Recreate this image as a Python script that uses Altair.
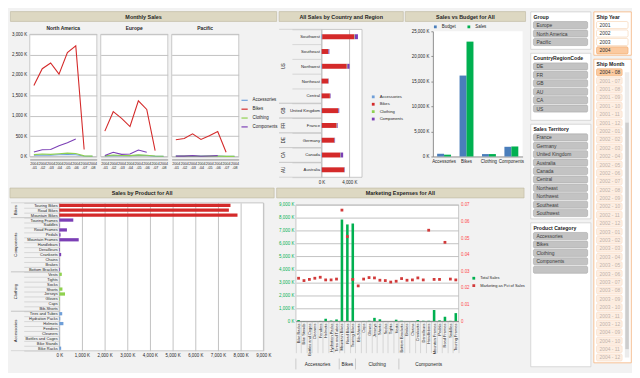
import json
import altair as alt
import pandas as pd

FONT = "Liberation Sans"
HEAD_FILL = "#ddd8c2"
HEAD_STROKE = "#bdb79f"
GRID = "#c2c2c2"
AXIS_DOMAIN = "#8c8c8c"
SEP = "#c4c4c4"

# ---------------- data ----------------
months = ["2004-01", "2004-02", "2004-03", "2004-04", "2004-05", "2004-06", "2004-07", "2004-08"]
regions = ["North America", "Europe", "Pacific"]
categories = ["Accessories", "Bikes", "Clothing", "Components"]
cat_colors = ["#6f9fd8", "#d42a2a", "#8fd14f", "#7b3fb5"]

na_accessories = [30, 38, 34, 42, 48, 44, 10, 5]
na_bikes = [1740, 2155, 2295, 2020, 2550, 2715, 172, None]
na_clothing = [45, 60, 52, 67, 82, 75, 15, 8]
na_components = [112, 165, 172, 262, 337, 427, None, None]
eu_accessories = [12, 22, 18, 20, 28, 24, 6, 3]
eu_bikes = [622, 1100, 937, 735, 1365, 1155, 143, None]
eu_clothing = [15, 37, 25, 22, 40, 30, 10, 4]
eu_components = [22, 105, 52, 60, 157, 105, None, None]
pa_accessories = [8, 10, 12, 9, 12, 14, 4, 2]
pa_bikes = [412, 442, 555, 420, 510, 615, 105, None]
pa_clothing = [6, 8, 10, 7, 9, 12, 3, 2]
pa_components = [8, 10, 22, 6, 14, 22, None, None]

country_order = ["US", "GB", "FR", "DE", "CA", "AU"]
country_codes = ["US", "US", "US", "US", "US", "GB", "FR", "DE", "CA", "AU"]
territories = ["Southwest", "Southeast", "Northwest", "Northeast", "Central",
               "United Kingdom", "France", "Germany", "Canada", "Australia"]
terr_accessories = [110, 25, 90, 22, 28, 60, 50, 40, 80, 45]
terr_bikes = [4575, 944, 3540, 944, 1180, 2310, 2120, 1790, 2590, 3210]
terr_clothing = [80, 20, 70, 18, 22, 40, 35, 30, 60, 25]
terr_components = [470, 140, 330, 60, 80, 140, 110, 90, 380, 70]

budget_series = ["Budget", "Sales"]
budget_values = [545, 16160, 484, 1937]
sales_values = [363, 22940, 484, 2000]

product_categories = (["Accessories"] * 8 + ["Bikes"] * 3 + ["Clothing"] * 8 + ["Components"] * 11)
products = ["Bike Racks", "Bike Stands", "Bottles and Cages", "Cleaners", "Fenders", "Helmets",
            "Hydration Packs", "Tires and Tubes",
            "Mountain Bikes", "Road Bikes", "Touring Bikes",
            "Bib-Shorts", "Caps", "Gloves", "Jerseys", "Shorts", "Socks", "Tights", "Vests",
            "Bottom Brackets", "Brakes", "Chains", "Cranksets", "Derailleurs", "Handlebars",
            "Mountain Frames", "Pedals", "Road Frames", "Saddles", "Touring Frames"]
product_sales = [84, 10, 14, 10, 14, 183, 42, 130,
                 7861, 7481, 7552,
                 3, 14, 28, 253, 140, 3, 2, 112,
                 28, 10, 10, 84, 28, 28, 858, 56, 338, 20, 619]
marketing_pct = [0.0258, 0.0244, 0.0251, 0.0258, 0.0264, 0.0248, 0.0248, 0.0253,
                 0.0668, 0.0509, 0.0251,
                 0.0212, 0.0253, 0.0262, 0.0260, 0.0246, 0.0244, 0.0235, 0.0240,
                 0.0256, 0.0246, 0.0248, 0.0260, 0.0248, 0.0547, 0.0251, 0.0251, 0.0474, 0.0253, 0.0248]
product_row_order = ["Bikes", "Components", "Clothing", "Accessories"]
mk_series = ["Total Sales", "Marketing as Pct of Sales"]

group_items = ["Europe", "North America", "Pacific"]
country_code_items = ["DE", "FR", "GB", "AU", "CA", "US"]
territory_items = ["France", "Germany", "United Kingdom", "Australia", "Canada", "Central",
                   "Northeast", "Northwest", "Southeast", "Southwest"]
category_items = ["Accessories", "Bikes", "Clothing", "Components", ""]
ship_years = ["2001", "2002", "2003", "2004"]
ship_year_selected = ["2004"]
ship_months = ["2004 - 08", "2001 - 07", "2001 - 08", "2001 - 09", "2001 - 10", "2001 - 11", "2001 - 12",
               "2002 - 01", "2002 - 02", "2002 - 03", "2002 - 04", "2002 - 05", "2002 - 06",
               "2002 - 07", "2002 - 08", "2002 - 09", "2002 - 10", "2002 - 11", "2002 - 12",
               "2003 - 01", "2003 - 02", "2003 - 03", "2003 - 04", "2003 - 05", "2003 - 06",
               "2003 - 07", "2003 - 08", "2003 - 09", "2003 - 10", "2003 - 11", "2003 - 12",
               "2004 - 09", "2004 - 10", "2004 - 11", "2004 - 12"]
ship_month_selected = ["2004 - 08"]

# ---------------- tables ----------------
ms_rows = []
for region, series in zip(regions, [
        [na_accessories, na_bikes, na_clothing, na_components],
        [eu_accessories, eu_bikes, eu_clothing, eu_components],
        [pa_accessories, pa_bikes, pa_clothing, pa_components]]):
    for cat, vals in zip(categories, series):
        for m, v in zip(months, vals):
            if v is not None:
                ms_rows.append({"region": region, "category": cat, "month": m, "value": v})
ms_df = pd.DataFrame(ms_rows)

ct_rows = []
for i, terr in enumerate(territories):
    for cat, vals in zip(categories, [terr_accessories, terr_bikes, terr_clothing, terr_components]):
        ct_rows.append({"code": country_codes[i], "territory": terr, "category": cat, "value": vals[i]})
ct_df = pd.DataFrame(ct_rows)
code_df = pd.DataFrame({"code": country_codes, "territory": territories})

bd_rows = []
for i, cat in enumerate(categories):
    bd_rows.append({"category": cat, "series": "Budget", "value": budget_values[i]})
    bd_rows.append({"category": cat, "series": "Sales", "value": sales_values[i]})
bd_df = pd.DataFrame(bd_rows)

pr_df = pd.DataFrame({"category": product_categories, "product": products,
                      "sales": product_sales, "pct": marketing_pct})
# display order of the horizontal product bars (top to bottom)
product_display = []
for cat in product_row_order:
    product_display += sorted([p for p, c in zip(products, product_categories) if c == cat], reverse=True)

K_LABEL = "format(datum.value, ',') + ' K'"
WHITE = alt.ViewBackground(fill="white", stroke="#a8a8a8", strokeWidth=0.6)
SPACER_DF = pd.DataFrame({"t": [""]})


def spacer(h):
    return alt.Chart(SPACER_DF).mark_text(fontSize=1).encode(text="t:N").properties(width=1, height=h)


def header(title, left, width, h=10):
    df = pd.DataFrame({"t": [title]})
    base = alt.Chart(df)
    rect = base.mark_rect(fill=HEAD_FILL, stroke=HEAD_STROKE, strokeWidth=0.6).encode(
        x=alt.value(-left), x2=alt.value(width - left), y=alt.value(0), y2=alt.value(h))
    txt = base.mark_text(font=FONT, fontSize=5.5, fontWeight="bold", color="#1f1f1f").encode(
        x=alt.value(width / 2 - left), y=alt.value(h / 2 + 0.5), text="t:N")
    return alt.layer(rect, txt).properties(width=1, height=h)


def panel(title, left, width, bodies, gap=2):
    return alt.vconcat(header(title, left, width), *bodies, spacing=gap).resolve_scale(color="independent")


def group_labels(df, key, order, n_total, height, label_x, sep_left, font_size):
    """Category labels + separators for a nested (two level) vertical axis."""
    base = alt.Chart(df).transform_aggregate(
        n="count()", groupby=[key]).transform_calculate(
        rank="indexof(%s, datum.%s)" % (json.dumps(order), key)).transform_window(
        end="sum(n)", sort=[alt.SortField("rank")]).transform_calculate(
        start="datum.end - datum.n", mid="datum.end - datum.n / 2")
    ys = alt.Scale(domain=[0, n_total], range=[0, height], nice=False, zero=False)
    txt = base.mark_text(angle=270, fontSize=font_size, color="#262626").encode(
        y=alt.Y("mid:Q", scale=ys, axis=None), x=alt.value(label_x), text=f"{key}:N")
    s1 = base.mark_rule(color=SEP, strokeWidth=0.6).encode(
        y=alt.Y("start:Q", scale=ys, axis=None), x=alt.value(-sep_left), x2=alt.value(0))
    s2 = base.mark_rule(color=SEP, strokeWidth=0.6).encode(
        y=alt.Y("end:Q", scale=ys, axis=None), x=alt.value(-sep_left), x2=alt.value(0))
    return [txt, s1, s2]


# ---------------- Monthly Sales ----------------
monthly = alt.Chart(ms_df).mark_line(strokeWidth=1.1).encode(
    x=alt.X("month:O", title=None, axis=alt.Axis(
        labelExpr="[slice(datum.label, 0, 4), slice(datum.label, 4)]", labelAngle=0,
        labelFontSize=3.7, labelLineHeight=4.6, ticks=False, domainColor=AXIS_DOMAIN, labelPadding=2)),
    y=alt.Y("value:Q", title=None, scale=alt.Scale(domain=[0, 3000]), axis=alt.Axis(
        values=[0, 500, 1000, 1500, 2000, 2500, 3000], labelExpr=K_LABEL, labelFontSize=4.5,
        labelOverlap=False, gridColor=GRID, ticks=False, domain=False, minExtent=17, maxExtent=17,
        labelPadding=2)),
    color=alt.Color("category:N", scale=alt.Scale(domain=categories, range=cat_colors),
                    legend=alt.Legend(title=None, orient="none", legendX=214, legendY=63, padding=0,
                                      symbolType="stroke", labelFontSize=4.5, symbolSize=40,
                                      symbolStrokeWidth=1.2, rowPadding=2)),
).properties(width=68, height=124, view=WHITE).facet(
    column=alt.Column("region:N", sort=regions, title=None,
                      header=alt.Header(labelFontSize=5, labelFontWeight="bold", labelPadding=2)),
    spacing=2)

# ---------------- Country / Region ----------------
CT_H = 150
country_bars = alt.Chart(ct_df).mark_bar(size=5).encode(
    y=alt.Y("territory:N", sort=territories, title=None,
            scale=alt.Scale(paddingInner=0, paddingOuter=0),
            axis=alt.Axis(labelFontSize=4.3, tickBand="extent", tickSize=30, tickColor=SEP,
                          tickWidth=0.6, domain=False, labelPadding=-28, minExtent=30, maxExtent=30)),
    x=alt.X("value:Q", title=None, stack="zero", scale=alt.Scale(domain=[0, 5800], nice=False),
            axis=alt.Axis(values=[0, 4000], labelExpr=K_LABEL, gridColor=GRID, ticks=False,
                          labelOverlap=False, labelFlush=False, domain=False, labelFontSize=4.5)),
    color=alt.Color("category:N", scale=alt.Scale(domain=categories, range=cat_colors),
                    legend=alt.Legend(title=None, orient="none", legendX=50, legendY=66, padding=0,
                                      symbolType="square", labelFontSize=4.2, symbolSize=8,
                                      rowPadding=2.5)),
)
country = alt.layer(
    country_bars,
    *group_labels(code_df, "code", country_order, len(territories), CT_H, -38, 43, 4.5)
).resolve_scale(y="independent").properties(width=41, height=CT_H, view=WHITE)

# ---------------- Sales vs Budget ----------------
budget = alt.Chart(bd_df).mark_bar().encode(
    x=alt.X("category:N", sort=categories, title=None,
            scale=alt.Scale(paddingInner=0.38, paddingOuter=0.19),
            axis=alt.Axis(labelAngle=0, labelFontSize=4.5, ticks=False, domainColor=AXIS_DOMAIN)),
    xOffset=alt.XOffset("series:N", sort=budget_series),
    y=alt.Y("value:Q", title=None, scale=alt.Scale(domain=[0, 25000]), axis=alt.Axis(
        values=[0, 5000, 10000, 15000, 20000, 25000], labelExpr=K_LABEL, grid=False,
        labelOverlap=False, labelFontSize=4.5, domainColor=AXIS_DOMAIN, tickColor=AXIS_DOMAIN,
        tickSize=2, minExtent=27, maxExtent=27)),
    color=alt.Color("series:N", scale=alt.Scale(domain=budget_series, range=["#4a7ebb", "#00b050"]),
                    legend=alt.Legend(title=None, orient="top", symbolType="square", padding=0,
                                      labelFontSize=4.5, symbolSize=8, direction="horizontal",
                                      offset=3)),
).properties(width=91, height=127, view=alt.ViewBackground(fill="white", stroke=None))

# ---------------- Sales by Product ----------------
PR_H = 150
product_bars = alt.Chart(pr_df).mark_bar(size=3.3).encode(
    y=alt.Y("product:N", sort=product_display, title=None,
            scale=alt.Scale(paddingInner=0, paddingOuter=0),
            axis=alt.Axis(labelFontSize=4, tickBand="extent", tickSize=36, tickColor=SEP,
                          tickWidth=0.6, domain=False, labelPadding=-34, minExtent=36, maxExtent=36)),
    x=alt.X("sales:Q", title=None, scale=alt.Scale(domain=[0, 9000], nice=False), axis=alt.Axis(
        values=[0, 1000, 2000, 3000, 4000, 5000, 6000, 7000, 8000, 9000], labelExpr=K_LABEL,
        labelOverlap=False, labelFlush=False, gridColor=GRID, ticks=False, domain=False,
        labelFontSize=4.5)),
    color=alt.Color("category:N", scale=alt.Scale(domain=categories, range=cat_colors), legend=None),
)
product = alt.layer(
    product_bars,
    *group_labels(pr_df, "category", product_row_order, len(products), PR_H, -44, 49, 4.3)
).resolve_scale(y="independent").properties(width=207, height=PR_H, view=WHITE)

# ---------------- Marketing Expenses ----------------
mk_x = alt.X("product:N", sort=products, title=None, axis=alt.Axis(
    labelAngle=-90, labelFontSize=4, tickBand="extent", tickSize=32, tickColor=SEP,
    tickWidth=0.6, domainColor=AXIS_DOMAIN, labelPadding=-30))
mk_color = alt.Color("series:N", scale=alt.Scale(domain=mk_series, range=["#00b050", "#d23a3a"]),
                     legend=alt.Legend(title=None, orient="none", legendX=178, legendY=72, padding=0,
                                       symbolType="square", labelFontSize=4, symbolSize=8,
                                       rowPadding=2.5))
mk_bars = alt.Chart(pr_df).transform_calculate(series="'Total Sales'").mark_bar(size=2.6).encode(
    x=mk_x,
    y=alt.Y("sales:Q", title=None, scale=alt.Scale(domain=[0, 9000]), axis=alt.Axis(
        values=[0, 1000, 2000, 3000, 4000, 5000, 6000, 7000, 8000, 9000], labelExpr=K_LABEL,
        labelOverlap=False, labelColor="#00b050", gridColor=GRID, ticks=False, domain=False,
        labelFontSize=4.5, minExtent=18, maxExtent=18)),
    color=mk_color)
mk_pts = alt.Chart(pr_df).transform_calculate(series="'Marketing as Pct of Sales'").mark_square(
    size=8, opacity=1).encode(
    x=mk_x,
    y=alt.Y("pct:Q", title=None, scale=alt.Scale(domain=[0, 0.07]), axis=alt.Axis(
        orient="right", values=[0, 0.01, 0.02, 0.03, 0.04, 0.05, 0.06, 0.07],
        labelExpr="datum.value == 0 ? '0' : format(datum.value, '.2f')", labelColor="#ff4a4a",
        labelOverlap=False, grid=False, ticks=False, domain=False, labelFontSize=4.5)),
    color=mk_color)
marketing = alt.layer(mk_bars, mk_pts).resolve_scale(y="independent").properties(
    width=alt.Step(5.5), height=118, view=WHITE)

strip_base = alt.Chart(pr_df).transform_aggregate(
    n="count()", groupby=["category"]).transform_window(
    end="sum(n)", sort=[alt.SortField("category")]).transform_calculate(
    start="datum.end - datum.n", mid="datum.end - datum.n / 2")
strip_x = alt.Scale(domain=[0, len(products)], nice=False)
strip_txt = strip_base.mark_text(fontSize=4.8, color="#262626").encode(
    x=alt.X("mid:Q", scale=strip_x, axis=None), y=alt.value(4), text="category:N")
strip_sep = strip_base.mark_rule(color="#b0b0b0", strokeWidth=0.6).encode(
    x=alt.X("start:Q", scale=strip_x, axis=None), y=alt.value(-3), y2=alt.value(8))
strip = alt.layer(strip_sep, strip_txt).properties(width=5.5 * len(products), height=8)

# ---------------- slicers ----------------
STEP = 8.5
GRAY_STYLE = {"fill": "#c3c3c3", "stroke": "#a9a9a9", "text": "#3a3a3a",
              "sel_fill": "#c3c3c3", "sel_stroke": "#a9a9a9"}
YEAR_STYLE = {"fill": "#ffffff", "stroke": "#f6cfac", "text": "#333333",
              "sel_fill": "#fbcaa0", "sel_stroke": "#f2a869"}
MONTH_STYLE = {"fill": "#fdeee2", "stroke": "#f8dcc6", "text": "#bfb1a8",
               "sel_fill": "#fbcaa0", "sel_stroke": "#f2a869"}


def slicer(title, items, selected, width, height, style, box_stroke, scroll=False):
    n = len(items) + 1
    df = pd.DataFrame({"row": list(range(n)), "label": [title] + items,
                       "is_item": [False] + [True] * len(items),
                       "sel": [False] + [it in selected for it in items]})
    y = alt.Y("row:O", axis=None, scale=alt.Scale(range=[1, 1 + STEP * n],
                                                  paddingInner=0.16, paddingOuter=0.06))
    base = alt.Chart(df)
    right = width - (9 if scroll else 3)
    btn = base.transform_filter("datum.is_item").mark_rect(cornerRadius=1.3, strokeWidth=0.6).encode(
        y=y, x=alt.value(3), x2=alt.value(right),
        fill=alt.condition("datum.sel", alt.value(style["sel_fill"]), alt.value(style["fill"])),
        stroke=alt.condition("datum.sel", alt.value(style["sel_stroke"]), alt.value(style["stroke"])))
    lbl = base.transform_filter("datum.is_item").mark_text(align="left", fontSize=5, font=FONT).encode(
        y=y, x=alt.value(6), text="label:N",
        color=alt.condition("datum.sel", alt.value("#303030"), alt.value(style["text"])))
    ttl = base.transform_filter("!datum.is_item").mark_text(
        align="left", fontSize=5.2, fontWeight="bold", font=FONT, color="#202020").encode(
        y=y, x=alt.value(3), text="label:N")
    layers = [btn, lbl, ttl]
    if scroll:
        sb = pd.DataFrame({"a": [1], "b": [n - 1], "c": [7], "d": [n - 2]})
        track = alt.Chart(sb).mark_rule(color="#ececec", strokeWidth=4.5).encode(
            y=alt.Y("a:O", axis=None), y2="b:O", x=alt.value(width - 4))
        thumb = alt.Chart(sb).mark_rule(color="#cdcdcd", strokeWidth=3.5).encode(
            y=alt.Y("c:O", axis=None), y2="d:O", x=alt.value(width - 4))
        layers = [track, thumb] + layers
    return alt.layer(*layers).properties(
        width=width, height=height,
        view=alt.ViewBackground(fill="white", stroke=box_stroke, strokeWidth=0.8))


LW, RW = 61, 38
s_group = slicer("Group", group_items, [], LW, 38, GRAY_STYLE, "#d0d0d0")
s_crc = slicer("CountryRegionCode", country_code_items, [], LW, 68, GRAY_STYLE, "#d0d0d0")
s_terr = slicer("Sales Territory", territory_items, [], LW, 96, GRAY_STYLE, "#d0d0d0")
s_cat = slicer("Product Category", category_items, [], LW, 146, GRAY_STYLE, "#d0d0d0")
s_year = slicer("Ship Year", ship_years, ship_year_selected, RW, 44, YEAR_STYLE, "#f7b47c")
s_month = slicer("Ship Month", ship_months, ship_month_selected, RW, 308, MONTH_STYLE, "#f7b47c",
                 scroll=True)

slicers = alt.hconcat(
    alt.vconcat(s_group, s_crc, s_terr, s_cat, spacing=2),
    alt.vconcat(s_year, s_month, spacing=2),
    spacing=1)

# ---------------- assemble ----------------
p_monthly = panel("Monthly Sales", 19.5, 270, [monthly], gap=4)
p_country = panel("All Sales by Country and  Region", 43, 126, [country], gap=4)
p_budget = panel("Sales vs Budget for All", 28, 122, [budget], gap=2)
p_product = panel("Sales by Product for All", 50, 268, [product], gap=1)
p_marketing = panel("Marketing Expenses for All", 19.5, 251, [marketing, strip], gap=2)

top_row = alt.hconcat(spacer(10), p_monthly, p_country, p_budget, spacing=0).resolve_scale(color="independent")
bottom_row = alt.hconcat(spacer(10), p_product, p_marketing, spacing=0).resolve_scale(color="independent")
main = alt.vconcat(top_row, bottom_row, spacing=3).resolve_scale(color="independent")

chart = (alt.hconcat(main, slicers, spacing=3)
         .resolve_scale(color="independent")
         .properties(padding=0, background="#f2f2f2")
         .configure_view(stroke="transparent")
         .configure_axis(labelFont=FONT, labelColor="#262626", titleFont=FONT)
         .configure_header(labelFont=FONT, titleFont=FONT, labelColor="#1f1f1f")
         .configure_legend(labelFont=FONT, titleFont=FONT, labelColor="#262626")
         .configure_text(font=FONT))

chart.save("out.html", embed_options={"renderer": "svg", "actions": False})
